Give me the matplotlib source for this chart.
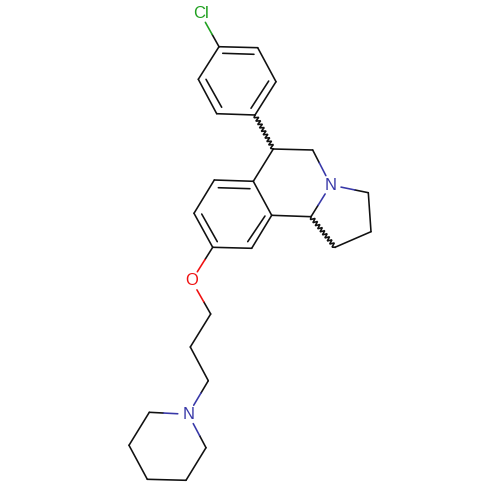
import numpy as np
import matplotlib
matplotlib.use("Agg")
import matplotlib.pyplot as plt

BLACK = "#111111"
BLUE = "#3838a8"
RED = "#f01010"
GREEN = "#1fa01f"

# Atom positions (x, y in pixels, y downwards)
atoms = {
    "Cl": (200.7, 14.0), "a1": (219.0, 46.7), "a2": (257.7, 47.7), "a3": (276.0, 81.7),
    "a4": (255.0, 115.0), "a5": (216.7, 113.7), "a6": (198.3, 79.3),
    "c1": (273.3, 149.0), "c2": (312.7, 150.0), "N1": (330.7, 185.0),
    "b1": (253.3, 181.3), "b2": (214.3, 180.0), "b3": (194.0, 213.3),
    "b4": (212.7, 247.3), "b5": (251.7, 248.3), "b6": (271.7, 215.3),
    "c3": (311.0, 216.7), "p1": (368.3, 192.7), "p2": (371.0, 231.7), "p3": (335.0, 247.3),
    "O": (191.7, 280.7), "l1": (210.7, 314.0), "l2": (190.3, 347.0), "l3": (208.3, 380.7),
    "N2": (188.3, 414.3), "r1": (149.3, 412.3), "r2": (129.0, 445.3),
    "r3": (147.3, 479.3), "r4": (186.0, 480.3), "r5": (206.0, 447.7),
}
plain_bonds = [
    ("a1", "a2"), ("a2", "a3"), ("a3", "a4"), ("a4", "a5"), ("a5", "a6"), ("a6", "a1"),
    ("c1", "c2"), ("c1", "b1"), ("b1", "b2"), ("b2", "b3"), ("b3", "b4"), ("b4", "b5"),
    ("b5", "b6"), ("b6", "b1"), ("b6", "c3"), ("p1", "p2"), ("p2", "p3"),
    ("l1", "l2"), ("l2", "l3"), ("r1", "r2"), ("r2", "r3"), ("r3", "r4"), ("r4", "r5"),
]
hetero_bonds = [
    ("a1", "Cl", GREEN), ("c2", "N1", BLUE), ("c3", "N1", BLUE), ("p1", "N1", BLUE),
    ("b4", "O", RED), ("l1", "O", RED), ("l3", "N2", BLUE), ("r1", "N2", BLUE), ("r5", "N2", BLUE),
]
inner_segments = [
    ((222.7, 53.3), (254.0, 54.3)), ((268.7, 81.0), (251.0, 108.3)), ((206.0, 79.3), (221.7, 107.3)),
    ((218.3, 187.7), (250.0, 188.7)), ((201.7, 214.0), (217.3, 241.7)), ((265.0, 216.0), (247.7, 241.7)),
]
wavy_bonds = [("a4", "c1"), ("c3", "p3")]
labels = [("Cl", GREEN), ("N1", BLUE), ("O", RED), ("N2", BLUE)]
label_text = {"Cl": "Cl", "N1": "N", "O": "O", "N2": "N"}

fig = plt.figure(figsize=(5, 5), dpi=100)
ax = fig.add_axes([0, 0, 1, 1])
ax.set_xlim(0, 500)
ax.set_ylim(500, 0)
ax.axis("off")
LW = 1.15
kw = dict(lw=LW, solid_capstyle="round", solid_joinstyle="round")

for u, v in plain_bonds:
    ax.plot(*zip(atoms[u], atoms[v]), color=BLACK, **kw)
for p, q in inner_segments:
    ax.plot(*zip(p, q), color=BLACK, **kw)

# Two-coloured bonds stop short of the heteroatom label
for u, v, col in hetero_bonds:
    p, q = np.array(atoms[u]), np.array(atoms[v])
    d = np.linalg.norm(q - p)
    gap = 10.5 if v != "Cl" else 9.5
    end = q + (p - q) / d * gap
    mid = (p + end) / 2
    ax.plot(*zip(p, mid), color=BLACK, **kw)
    ax.plot(*zip(mid, end), color=col, **kw)

# Stereo bonds: a tight zigzag along the bond
for u, v in wavy_bonds:
    p, q = np.array(atoms[u]), np.array(atoms[v])
    t = q - p
    L = np.linalg.norm(t)
    n = np.array([-t[1], t[0]]) / L
    steps = 20
    pts = [p]
    for i in range(1, steps):
        f = i / steps
        amp = 2.2 * (1 if i % 2 else -1)
        pts.append(p + t * f + n * amp)
    pts.append(q)
    pts = np.array(pts)
    ax.plot(pts[:, 0], pts[:, 1], color=BLACK, lw=LW, solid_joinstyle="miter")

for key, col in labels:
    x, y = atoms[key]
    ax.text(x, y, label_text[key], color=col, fontsize=12, family="Liberation Sans",
            ha="center", va="center")

fig.savefig("out.png", dpi=100, facecolor="white")
